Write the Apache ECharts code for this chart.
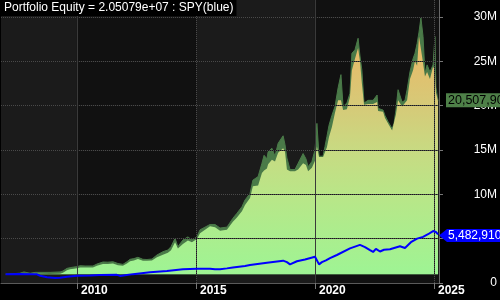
<!DOCTYPE html>
<html>
<head>
<meta charset="utf-8">
<script src="https://cdn.jsdelivr.net/npm/echarts@6/dist/echarts.min.js"></script>
<style>html,body{margin:0;padding:0;background:#000;}#c{width:500px;height:300px;}</style>
</head>
<body>
<div id="c"></div>
<script>
// ---- data (values in millions) ----
const dates = [
  2007.00, 2007.60, 2007.77, 2008.03, 2008.24, 2008.87, 2009.29, 2009.41, 2009.58, 2009.71,
  2009.87, 2010.00, 2010.13, 2010.21, 2010.34, 2010.67, 2010.84, 2011.09, 2011.30, 2011.51,
  2011.72, 2011.93, 2012.10, 2012.23, 2012.39, 2012.56, 2012.77, 2012.94, 2013.15, 2013.36,
  2013.61, 2013.82, 2013.95, 2014.12, 2014.24, 2014.45, 2014.66, 2014.83, 2015.04, 2015.17,
  2015.38, 2015.59, 2015.80, 2016.01, 2016.30, 2016.55, 2016.72, 2016.93, 2017.06, 2017.27,
  2017.39, 2017.61, 2017.77, 2017.86, 2017.98, 2018.03, 2018.19, 2018.32, 2018.45, 2018.66,
  2018.74, 2018.82, 2018.95, 2019.16, 2019.29, 2019.50, 2019.62, 2019.71, 2019.87, 2020.00,
  2020.08, 2020.17, 2020.34, 2020.42, 2020.50, 2020.59, 2020.71, 2020.84, 2020.97, 2021.09,
  2021.18, 2021.34, 2021.47, 2021.55, 2021.68, 2021.81, 2021.89, 2021.97, 2022.06, 2022.23,
  2022.44, 2022.61, 2022.65, 2022.86, 2022.94, 2023.07, 2023.24, 2023.32, 2023.40, 2023.49,
  2023.66, 2023.78, 2023.87, 2023.99, 2024.12, 2024.20, 2024.29, 2024.37, 2024.45, 2024.54,
  2024.62, 2024.71, 2024.83, 2024.96, 2025.04, 2025.08, 2025.17
];
const equityHigh = [
  1.0, 1.1, 1.25, 1.1, 1.2, 1.2, 1.25, 1.35, 1.65, 1.73,
  1.8, 1.84, 1.95, 2.14, 1.92, 1.92, 2.14, 2.37, 2.35, 2.4,
  2.2, 2.1, 2.4, 2.67, 2.75, 2.9, 2.67, 2.65, 2.7, 3.16,
  3.53, 3.72, 4.1, 5.04, 4.1, 4.85, 5.2, 4.85, 5.2, 6.0,
  6.3, 6.6, 6.6, 6.2, 6.3, 7.3, 7.86, 8.6, 9.36, 10.1,
  11.6, 12.0, 13.5, 14.4, 14.0, 14.8, 15.2, 14.3, 15.75, 16.6,
  15.6, 14.1, 12.8, 12.8, 13.5, 14.6, 14.0, 13.1, 13.7, 15.0,
  18.0, 14.3, 14.3, 15.4, 16.5, 17.8, 18.9, 19.9, 22.0, 23.5,
  19.9, 20.3, 21.4, 25.9, 26.3, 27.6, 25.6, 24.0, 20.3, 20.6,
  20.6, 21.2, 19.7, 19.5, 18.9, 18.2, 17.4, 18.0, 19.5, 21.8,
  20.4, 20.6, 21.8, 23.8, 25.3, 25.9, 27.0, 28.3, 29.9, 27.8,
  23.6, 24.6, 23.8, 24.6, 27.8, 22.1, 20.5079
];
const equityLow = [
  1.0, 1.0, 1.05, 1.0, 1.05, 1.02, 1.05, 1.15, 1.45, 1.55,
  1.6, 1.65, 1.75, 1.9, 1.75, 1.75, 1.95, 2.15, 2.15, 2.2,
  2.0, 1.95, 2.2, 2.45, 2.55, 2.7, 2.5, 2.5, 2.55, 2.9,
  3.2, 3.4, 3.7, 4.6, 3.9, 4.4, 4.8, 4.6, 4.95, 5.6,
  6.0, 6.4, 6.3, 5.9, 6.0, 6.9, 7.4, 8.1, 8.8, 9.6,
  10.9, 11.0, 12.4, 12.7, 12.9, 13.4, 13.9, 13.7, 14.7, 15.2,
  14.8, 12.8, 12.6, 12.6, 12.8, 13.5, 13.3, 12.6, 13.0, 13.8,
  15.4, 14.2, 14.2, 14.4, 15.3, 16.5, 17.6, 19.2, 20.6, 20.6,
  19.5, 19.6, 21.0, 24.0, 25.3, 26.5, 25.0, 22.5, 20.1, 20.2,
  20.2, 20.4, 19.4, 19.3, 18.6, 18.0, 17.2, 17.4, 19.0, 20.6,
  19.9, 20.3, 20.6, 23.0, 24.0, 25.0, 24.5, 27.8, 28.0, 24.8,
  23.3, 23.8, 23.0, 24.4, 24.0, 21.5, 20.5079
];
const spyDates = [
  2007.00, 2007.60, 2008.03, 2008.32, 2008.45, 2008.74, 2009.08, 2009.29, 2009.58, 2010.00,
  2010.55, 2010.97, 2011.68, 2011.81, 2012.02, 2012.35, 2013.07, 2013.78, 2014.45, 2015.04,
  2015.59, 2015.80, 2016.01, 2016.30, 2016.55, 2017.06, 2017.27, 2017.98, 2018.66, 2018.82,
  2018.95, 2019.24, 2019.58, 2020.00, 2020.08, 2020.17, 2020.29, 2020.46, 2020.63, 2020.92,
  2021.47, 2021.89, 2022.10, 2022.31, 2022.44, 2022.56, 2022.73, 2022.90, 2023.15, 2023.57,
  2023.78, 2024.03, 2024.29, 2024.54, 2024.75, 2024.96, 2025.08, 2025.17
];
const spyValues = [
  1.0, 1.02, 1.0, 0.98, 0.82, 0.64, 0.56, 0.6, 0.71, 0.82,
  0.85, 0.9, 0.92, 0.8, 0.88, 1.0, 1.2, 1.35, 1.54, 1.62,
  1.62, 1.55, 1.55, 1.65, 1.75, 1.92, 2.03, 2.29, 2.52, 2.35,
  2.1, 2.45, 2.65, 2.97, 2.95, 2.1, 2.35, 2.55, 2.8, 3.16,
  3.9, 4.3, 4.05, 3.7, 3.5, 3.85, 3.55, 3.75, 3.8, 4.15,
  3.95, 4.6, 5.0, 5.2, 5.5, 5.86, 5.75, 5.483
];
const yTicks = [0, 5, 10, 15, 20, 25, 30];
const yearTicks = [2010, 2015, 2020, 2025];
const solidYears = [2010, 2020];
const dottedYears = [2015, 2025];
const equityLast = 20507908;
const spyLast = 5482910;
const titleText = 'Portfolio Equity = 2.05079e+07 : SPY(blue)';

// ---- axis extents ----
const X_MIN = 2006.807, X_MAX = 2025.21;
const Y_MAX = 31.917e6;
const bandEdges = [X_MIN, 2010, 2015, 2020, 2025, X_MAX];
const bandColors = ['#1b1b1b', '#111111', '#1b1b1b', '#111111', '#111111'];

const M = 1e6;
const hiData = dates.map((d, i) => [d, equityHigh[i] * M]);
const loData = dates.map((d, i) => [d, equityLow[i] * M]);
const spyData = spyDates.map((d, i) => [d, spyValues[i] * M]);

const FONT = "'Liberation Sans', Arial, sans-serif";
const hLines = yTicks.slice(1).map(v => ({ yAxis: v * M }));
const dotUnder = hLines.concat(dottedYears.map(y => ({ xAxis: y })));

const chart = echarts.init(document.getElementById('c'), null, { renderer: 'canvas' });
chart.setOption({
  animation: false,
  backgroundColor: '#000',
  title: {
    text: titleText, left: 0, top: 0, padding: [2, 3, 2, 4],
    backgroundColor: '#000',
    textStyle: { color: '#fff', fontSize: 12, fontWeight: 'normal', fontFamily: FONT }
  },
  grid: { left: 1, right: 61, top: 0, bottom: 17, containLabel: false },
  xAxis: {
    type: 'value', min: X_MIN, max: X_MAX,
    axisLine: { show: true, lineStyle: { color: '#5a5a5a' } },
    axisTick: { show: true, customValues: yearTicks, length: 6, lineStyle: { color: '#777' } },
    axisLabel: {
      customValues: yearTicks, color: '#fff', fontSize: 12, fontWeight: 'bold', fontFamily: FONT,
      align: 'left', margin: 2, padding: [0, 0, 0, 4], formatter: v => String(v)
    },
    splitLine: { show: false }
  },
  yAxis: [{
    type: 'value', position: 'right', min: 0, max: Y_MAX, z: 0,
    axisLine: { show: true, lineStyle: { color: '#666' } },
    axisTick: { show: true, customValues: yTicks.map(v => v * M), length: 4, lineStyle: { color: '#777' } },
    axisLabel: {
      customValues: yTicks.map(v => v * M), color: '#fff', fontSize: 12, fontFamily: FONT,
      align: 'right', margin: 58, formatter: v => v === 0 ? '0' : (v / M) + 'M'
    },
    splitLine: { show: false }
  }, {
    type: 'value', position: 'left', min: 0, max: Y_MAX,
    axisLine: { show: true, lineStyle: { color: '#555' } },
    axisTick: { show: false }, axisLabel: { show: false }, splitLine: { show: false }
  }],
  series: [
    { // background year bands
      type: 'line', data: [], z: 0, silent: true,
      markArea: {
        silent: true,
        data: bandEdges.slice(0, -1).map((a, i) => [
          { xAxis: a, itemStyle: { color: bandColors[i] } },
          { xAxis: bandEdges[i + 1] }
        ])
      }
    },
    { // gray dotted grid under the fill
      type: 'line', data: [], z: 1, silent: true,
      markLine: {
        silent: true, symbol: 'none', label: { show: false },
        lineStyle: { color: '#4a4a4a', width: 1, type: [1, 1], dashOffset: 0 },
        data: dotUnder
      }
    },
    { // equity high envelope (dark green)
      type: 'line', data: hiData, z: 2, showSymbol: false, symbol: 'none',
      lineStyle: { color: '#4a7a48', width: 1 },
      areaStyle: { color: '#4a7a48', opacity: 1, origin: 1 * M }
    },
    { // equity fill (gradient)
      type: 'line', data: loData, z: 3, showSymbol: false, symbol: 'none',
      lineStyle: { width: 0 },
      areaStyle: {
        opacity: 1, origin: 1 * M,
        color: new echarts.graphic.LinearGradient(0, 0, 0, 1, [
          { offset: 0, color: '#ecb664' },
          { offset: 0.11, color: '#e4be6c' },
          { offset: 0.30, color: '#d6ca78' },
          { offset: 0.48, color: '#c8da82' },
          { offset: 0.67, color: '#b9e688' },
          { offset: 0.85, color: '#aaee8e' },
          { offset: 1, color: '#9ef494' }
        ])
      }
    },
    { // grid overlay drawn over the fill
      type: 'line', data: [], z: 4, silent: true,
      markLine: {
        silent: true, symbol: 'none', label: { show: false },
        data: dotUnder.map(d => Object.assign({}, d, {
          lineStyle: { color: '#1a1a1a', width: 1, type: [1, 1], dashOffset: 1 }
        })).concat(solidYears.map(y => ({
          xAxis: y, lineStyle: { color: '#3a3a3a', width: 1, type: 'solid' }
        })))
      }
    },
    { // SPY
      type: 'line', data: spyData, z: 5, showSymbol: false, symbol: 'none',
      lineStyle: { color: '#0000ff', width: 2 },
      markPoint: {
        silent: true,
        data: [{
          coord: [X_MAX, spyLast],
          symbol: 'path://M0,6.5 L8,0 L62,0 L62,13 L8,13 Z',
          symbolSize: [62, 13], symbolKeepAspect: false, symbolOffset: [31, 1],
          itemStyle: { color: '#0000ff' },
          label: {
            show: true, position: 'insideLeft', distance: 9,
            color: '#fff', fontSize: 12, fontFamily: FONT,
            formatter: () => spyLast.toLocaleString('en-US')
          }
        }]
      }
    },
    { // equity last value label
      type: 'line', data: [], z: 6, silent: true,
      markPoint: {
        silent: true,
        data: [{
          coord: [X_MAX, equityLast],
          symbol: 'rect', symbolSize: [56, 14], symbolOffset: [35, -1],
          itemStyle: { color: '#4e8048' },
          label: {
            show: true, position: 'insideLeft', distance: 2,
            color: '#000', fontSize: 12.5, fontFamily: FONT,
            formatter: () => equityLast.toLocaleString('en-US')
          }
        }]
      }
    }
  ]
});
</script>
</body>
</html>
